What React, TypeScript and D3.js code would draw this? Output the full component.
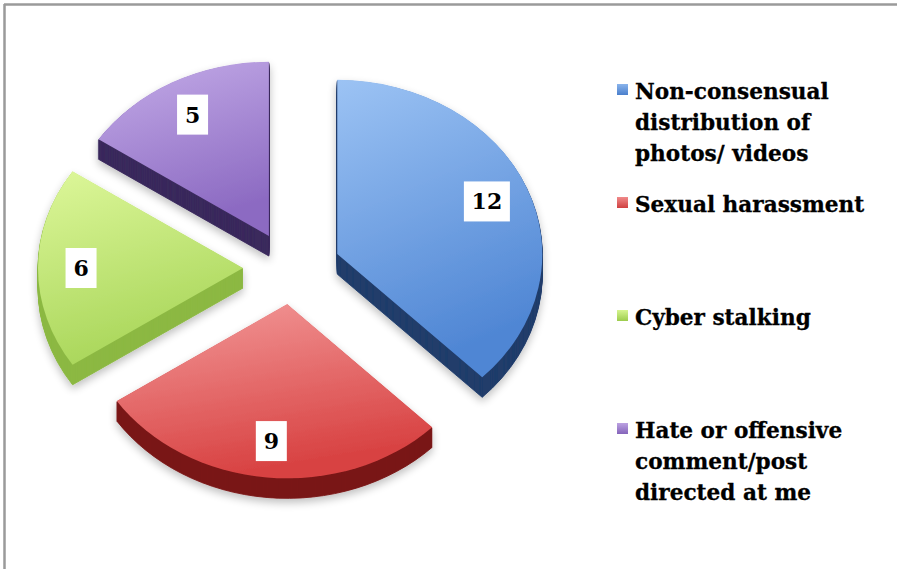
import * as d3 from "d3";
import { useMemo } from "react";

const W = 897;
const H = 569;

// data
const categories = [
  "Non-consensual distribution of photos/ videos",
  "Sexual harassment",
  "Cyber stalking",
  "Hate or offensive comment/post directed at me",
];
const legendLines = [
  ["Non-consensual", "distribution of", "photos/ videos"],
  ["Sexual harassment"],
  ["Cyber stalking"],
  ["Hate or offensive", "comment/post", "directed at me"],
];
const values = [12, 9, 6, 5];

// styling
const TOP = [
  ["#9cc3f4", "#4f86d4"],
  ["#f39a9a", "#d84242"],
  ["#ddf79a", "#a9d65a"],
  ["#c4ace8", "#8c6ac2"],
];
const SIDE = ["#213d6b", "#7a1818", "#8cb843", "#3b2a5c"];
const KEY = [
  ["#8ab4ec", "#4a7fcc"],
  ["#f08a8a", "#d04040"],
  ["#d6f590", "#9ccc4c"],
  ["#bca2e2", "#8464ba"],
];

const CX = 292;
const CY = 268;
const R = 205; // horizontal radius
const SY = 0.85; // vertical squash for tilt
const EXPLODE = 49;
const EXPLODE_SY = 0.74;
const DEPTH = 20;
const FONT = "'DejaVu Serif', 'Liberation Serif', serif";

export default function App() {
  const slices = useMemo(
    () => d3.pie<number>().sort(null).value((d) => d)(values),
    [],
  );
  const arc = useMemo(
    () => d3.arc<d3.PieArcDatum<number>>().innerRadius(0).outerRadius(R),
    [],
  );

  const legendY = d3
    .scalePoint<number>()
    .domain(d3.range(categories.length))
    .range([99, 438]);

  const items = slices.map((s, i) => {
    const mid = (s.startAngle + s.endAngle) / 2;
    const ax = CX + Math.sin(mid) * EXPLODE;
    const ay = CY - Math.cos(mid) * EXPLODE * EXPLODE_SY;
    const lf = 0.79;
    const lx = ax + Math.sin(mid) * R * lf;
    const ly = ay - Math.cos(mid) * R * SY * lf;
    return { s, i, ax, ay, lx, ly, d: arc(s) ?? "" };
  });

  return (
    <svg
      width={W}
      height={H}
      viewBox={`0 0 ${W} ${H}`}
      style={{ position: "absolute", left: 0, top: 0, background: "#fff" }}
    >
      <defs>
        {TOP.map((c, i) => (
          <linearGradient key={`g${i}`} id={`top${i}`} x1="0" y1="0" x2="0.3" y2="1">
            <stop offset="0" stopColor={c[0]} />
            <stop offset="1" stopColor={c[1]} />
          </linearGradient>
        ))}
        {KEY.map((c, i) => (
          <linearGradient key={`k${i}`} id={`key${i}`} x1="0" y1="0" x2="0" y2="1">
            <stop offset="0" stopColor={c[0]} />
            <stop offset="1" stopColor={c[1]} />
          </linearGradient>
        ))}
        <filter id="shadow" x="-20%" y="-20%" width="140%" height="150%">
          <feGaussianBlur in="SourceAlpha" stdDeviation="4" />
          <feOffset dx="0" dy="4" result="b" />
          <feComponentTransfer>
            <feFuncA type="linear" slope="0.25" />
          </feComponentTransfer>
          <feMerge>
            <feMergeNode />
            <feMergeNode in="SourceGraphic" />
          </feMerge>
        </filter>
      </defs>

      {/* frame */}
      <line x1={4.5} x2={4.5} y1={4} y2={H} stroke="#9a9a9a" strokeWidth={2.5} />
      <line x1={4} x2={W} y1={4.5} y2={4.5} stroke="#9a9a9a" strokeWidth={2.5} />

      {/* slices: stacked copies make the side wall, gradient face on top */}
      {items.map(({ i, ax, ay, d }) => (
        <g key={`s${i}`} filter="url(#shadow)">
          {d3.range(DEPTH, 0, -1).map((k) => (
            <path
              key={k}
              d={d}
              transform={`translate(${ax},${ay + k}) scale(1,${SY})`}
              fill={SIDE[i]}
              stroke={SIDE[i]}
              strokeWidth={1}
            />
          ))}
          <path
            d={d}
            transform={`translate(${ax},${ay}) scale(1,${SY})`}
            fill={`url(#top${i})`}
          />
        </g>
      ))}

      {/* value labels */}
      {items.map(({ s, i, lx, ly }) => {
        const txt = String(s.data);
        const bw = 16 + txt.length * 15;
        return (
          <g key={`l${i}`}>
            <rect x={lx - bw / 2} y={ly - 20} width={bw} height={40} fill="#fff" />
            <text
              x={lx}
              y={ly + 8}
              textAnchor="middle"
              fontFamily={FONT}
              fontWeight={700}
              fontSize={22}
              fill="#000"
            >
              {txt}
            </text>
          </g>
        );
      })}

      {/* legend */}
      {categories.map((c, i) => {
        const by = legendY(i) ?? 0;
        return (
          <g key={c}>
            <rect x={617} y={by - 15} width={11} height={11} fill={`url(#key${i})`} />
            <text
              fontFamily={FONT}
              fontWeight={700}
              fontSize={21.6}
              fill="#000"
              stroke="#000"
              strokeWidth={0.3}
            >
              {legendLines[i].map((ln, j) => (
                <tspan key={j} x={635} y={by + j * 31}>
                  {ln}
                </tspan>
              ))}
            </text>
          </g>
        );
      })}
    </svg>
  );
}
